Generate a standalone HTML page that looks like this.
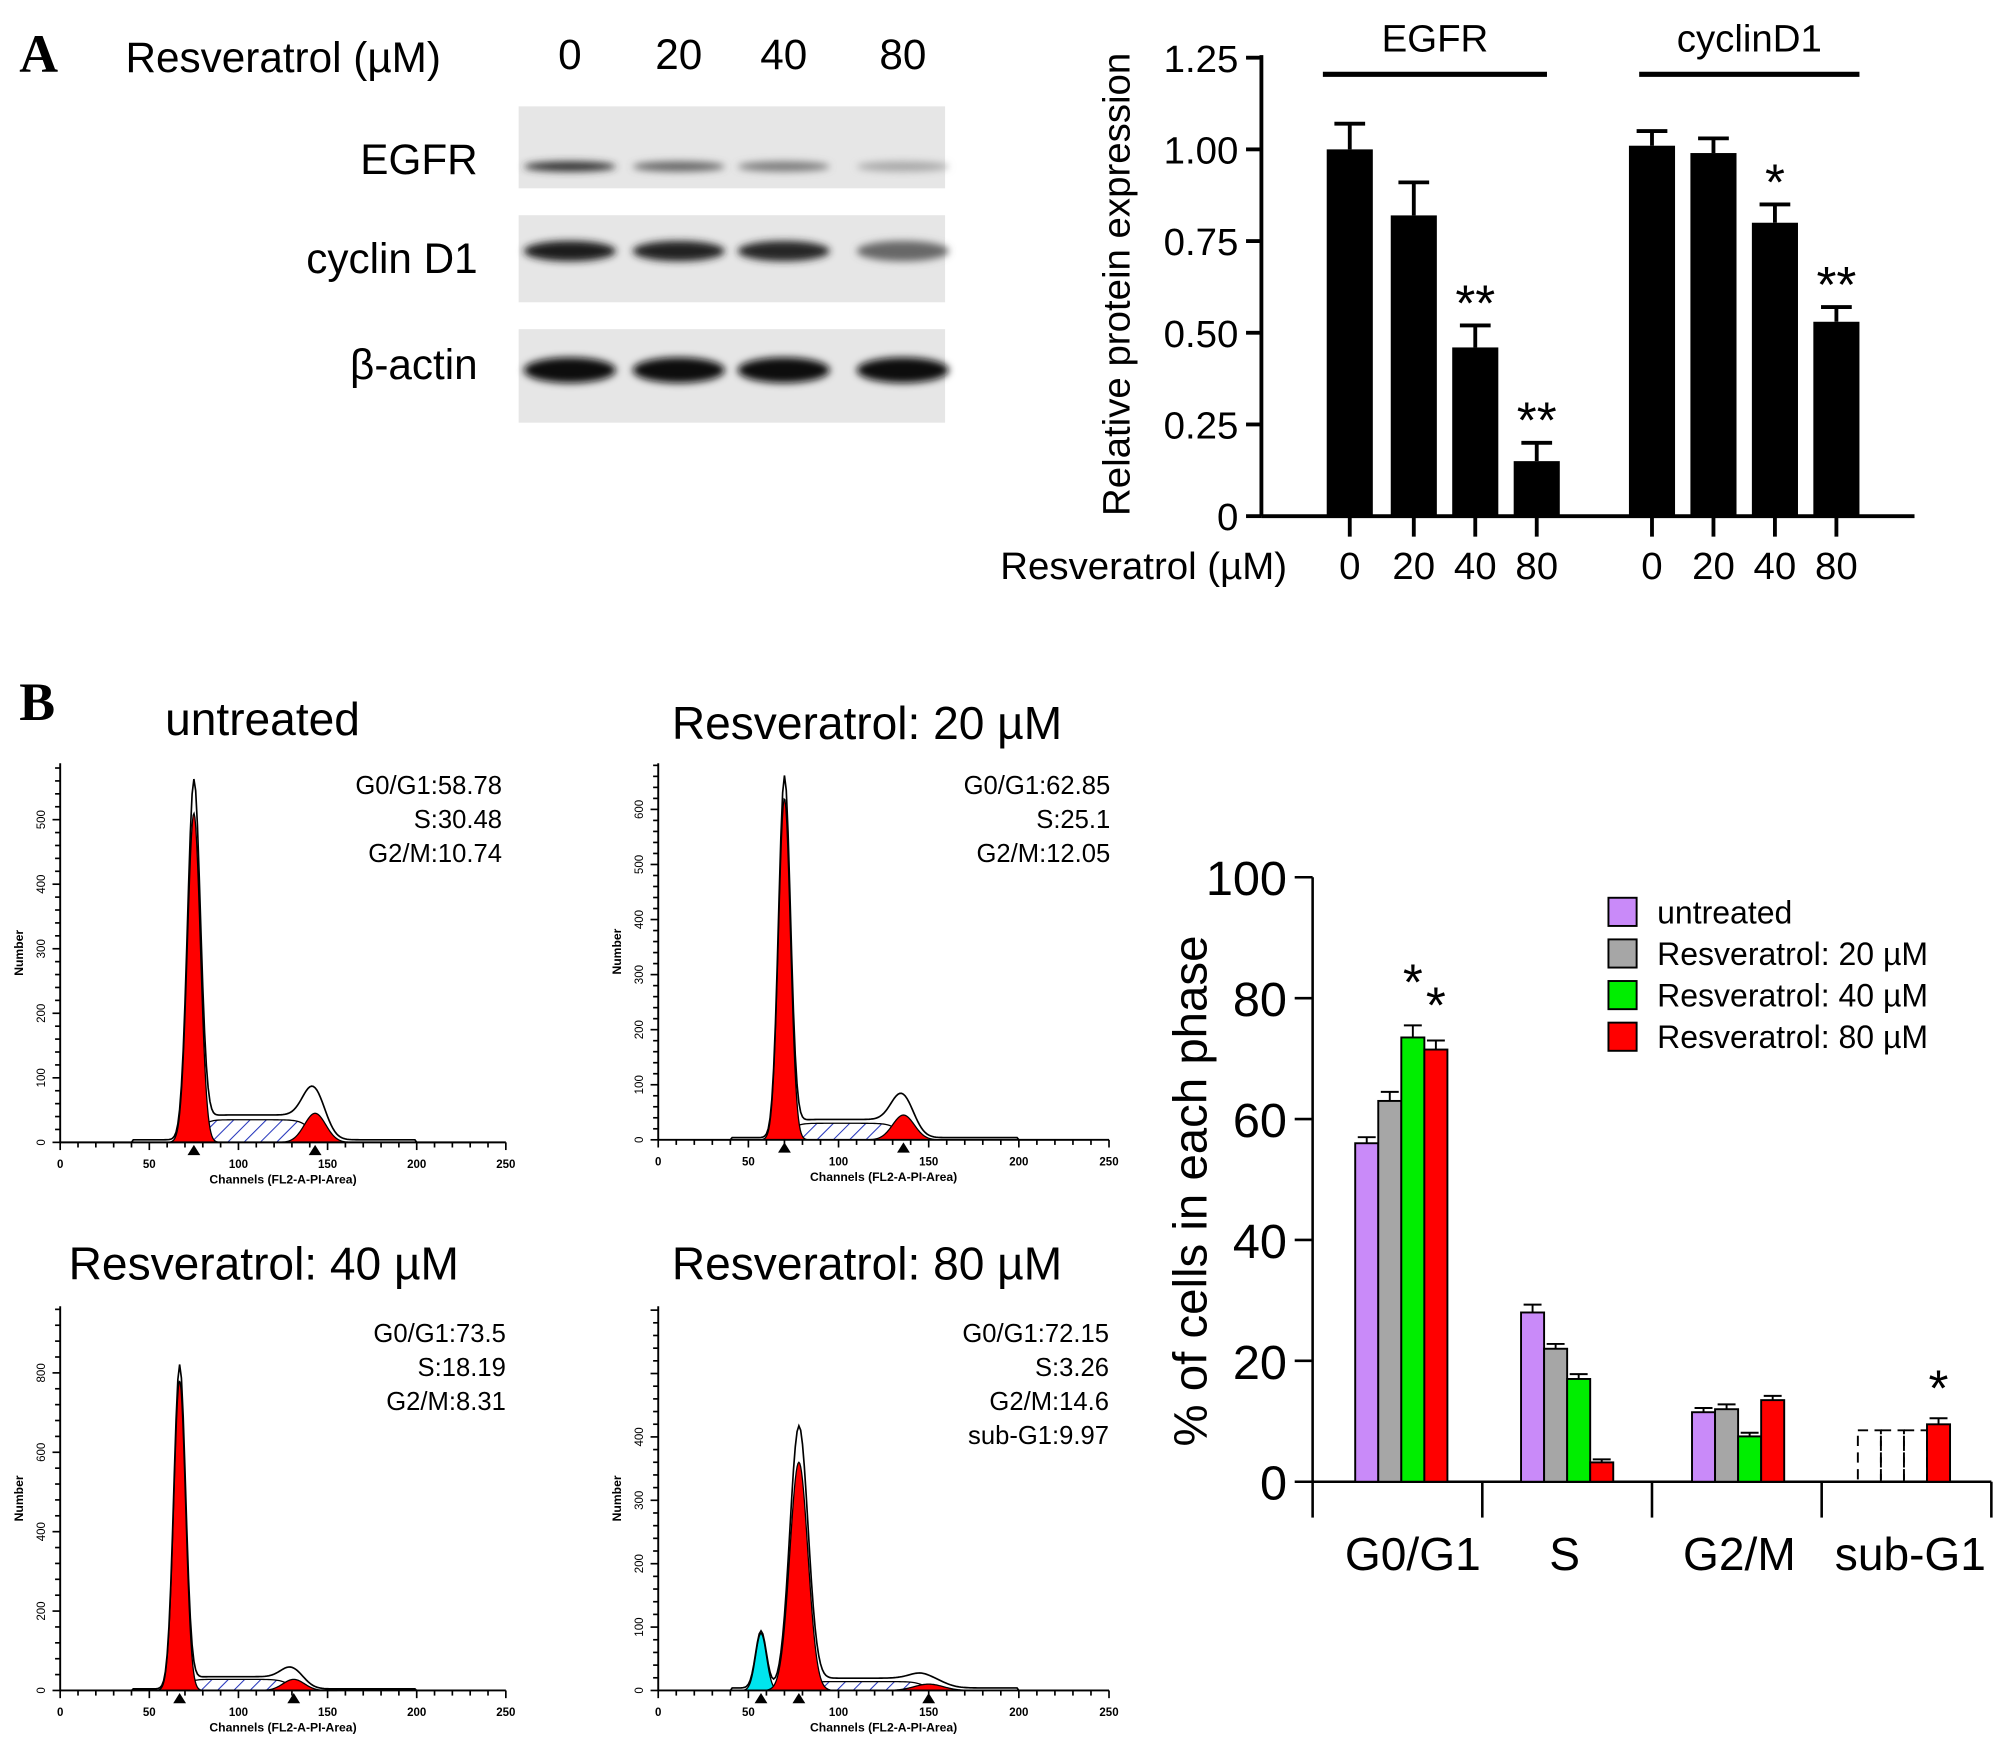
<!DOCTYPE html>
<html><head><meta charset="utf-8"><style>
html,body{margin:0;padding:0;background:#fff}
svg{display:block}
text{font-family:"Liberation Sans",Arial,sans-serif;fill:#000}
</style></head><body>
<svg id="fig" width="2008" height="1752" viewBox="0 0 1568 1368" xmlns="http://www.w3.org/2000/svg">
<defs>
<filter id="blur" x="-20%" y="-100%" width="140%" height="300%"><feGaussianBlur stdDeviation="3"/></filter>
<pattern id="hatch" patternUnits="userSpaceOnUse" width="9" height="9" patternTransform="rotate(45)">
<rect width="9" height="9" fill="#fff"/><line x1="0" y1="0" x2="0" y2="9" stroke="#2233bb" stroke-width="1.6"/></pattern>
</defs>
<g id="panelA">
<text x="15" y="56" font-weight="bold" font-size="42" style="font-family:'Liberation Serif',serif">A</text>
<text x="98" y="56" font-size="33">Resveratrol (µM)</text>
<text x="445" y="54" font-size="33" text-anchor="middle">0</text>
<text x="530" y="54" font-size="33" text-anchor="middle">20</text>
<text x="612" y="54" font-size="33" text-anchor="middle">40</text>
<text x="705" y="54" font-size="33" text-anchor="middle">80</text>
<text x="373" y="136" font-size="33" text-anchor="end">EGFR</text>
<text x="373" y="213" font-size="33" text-anchor="end">cyclin D1</text>
<text x="373" y="296" font-size="33" text-anchor="end">β-actin</text>
<g id="blots"></g>
<g id="chartA"></g>
</g>
<g id="panelB">
<text x="15" y="562" font-weight="bold" font-size="42" style="font-family:'Liberation Serif',serif">B</text>
<g id="hists"></g>
<g id="chartB"></g>
</g>
</svg>
<script>
const NS="http://www.w3.org/2000/svg";
function mk(tag,attrs,parent,txt){const e=document.createElementNS(NS,tag);for(const k in attrs)e.setAttribute(k,attrs[k]);if(txt!==undefined)e.textContent=txt;parent.appendChild(e);return e;}

// ---------- Blots ----------
const blotLanes=[445,530,612,705];
const egfrIntensity=[0.85,0.6,0.5,0.3];
const cyclinIntensity=[0.95,0.92,0.9,0.6];
const actinIntensity=[1,1,1,1];
const blots=document.getElementById('blots');
const blotRows=[{y:83,h:64,vals:egfrIntensity,bandY:130,bh:4,name:'egfr-blot'},{y:168,h:68,vals:cyclinIntensity,bandY:196,bh:8,name:'cyclind1-blot'},{y:257,h:73,vals:actinIntensity,bandY:289,bh:10,name:'actin-blot'}];
blotRows.forEach(r=>{
  const g=mk('g',{},blots);
  
  
  mk('rect',{x:405,y:r.y,width:333,height:r.h,fill:'#e6e6e6'},g);
  r.vals.forEach((v,i)=>{
    const c=Math.round(235-220*v);
    const b=mk('ellipse',{cx:blotLanes[i],cy:r.bandY,rx:36,ry:r.bh,fill:`rgb(${c},${c},${c})`,filter:'url(#blur)'},g);
    
    
  });
});

// ---------- Chart A ----------
const aGroups=['EGFR','cyclinD1'];
const aDoses=['0','20','40','80'];
const egfrVals=[1.00,0.82,0.46,0.15];
const egfrErr=[0.07,0.09,0.06,0.05];
const cycVals=[1.01,0.99,0.80,0.53];
const cycErr=[0.04,0.04,0.05,0.04];
const aTicks=[0,0.25,0.5,0.75,1.0,1.25];
const aTickLabels=['0','0.25','0.50','0.75','1.00','1.25'];
const egfrStars=['','','**','**'];
const cycStars=['','','*','**'];
const cA=document.getElementById('chartA');
const ax0=985,ay0=403,ayTop=45;
const yA=v=>ay0-(v/1.25)*(ay0-ayTop);
const centersA=[[1054,1104,1152,1200],[1290,1338,1386,1434]];
mk('line',{x1:ax0,y1:ay0,x2:1495,y2:ay0,stroke:'#000','stroke-width':3},cA);
mk('line',{x1:ax0,y1:ayTop-2,x2:ax0,y2:ay0,stroke:'#000','stroke-width':3},cA);
aTicks.forEach((t,i)=>{
  mk('line',{x1:ax0-12,y1:yA(t),x2:ax0,y2:yA(t),stroke:'#000','stroke-width':3},cA);
  const l=mk('text',{x:ax0-18,y:yA(t)+11,'font-size':30,'text-anchor':'end'},cA,aTickLabels[i]);
  
  
});
const yt=mk('text',{x:0,y:0,'font-size':30,'text-anchor':'middle',transform:'translate(882,222) rotate(-90)'},cA,'Relative protein expression');


const xt=mk('text',{x:1005,y:452,'font-size':30,'text-anchor':'end'},cA,'Resveratrol (µM)');


[[egfrVals,egfrErr,egfrStars],[cycVals,cycErr,cycStars]].forEach((s,gi)=>{
  s[0].forEach((v,i)=>{
    const cx=centersA[gi][i];
    const b=mk('rect',{x:cx-18,y:yA(v),width:36,height:ay0-yA(v),fill:'#000'},cA);
    
    
    const ye=yA(v+s[1][i]);
    mk('line',{x1:cx,y1:ye,x2:cx,y2:yA(v),stroke:'#000','stroke-width':3},cA);
    mk('line',{x1:cx-12,y1:ye,x2:cx+12,y2:ye,stroke:'#000','stroke-width':3},cA);
    mk('line',{x1:cx,y1:ay0,x2:cx,y2:ay0+16,stroke:'#000','stroke-width':3},cA);
    const tl=mk('text',{x:cx,y:452,'font-size':30,'text-anchor':'middle'},cA,aDoses[i]);
    
    
    if(s[2][i]){const st=mk('text',{x:cx,y:ye-4,'font-size':40,'text-anchor':'middle'},cA,s[2][i]);
      
      }
  });
});
[[1033,1208,'EGFR'],[1280,1452,'cyclinD1']].forEach(g=>{
  mk('line',{x1:g[0],y1:58,x2:g[1],y2:58,stroke:'#000','stroke-width':4},cA);
  const t=mk('text',{x:(g[0]+g[1])/2,y:40,'font-size':30,'text-anchor':'middle'},cA,g[2]);
  
  
});

// ---------- Histograms ----------
const histTitles=['untreated','Resveratrol: 20 µM','Resveratrol: 40 µM','Resveratrol: 80 µM'];
const histStats=[['G0/G1:58.78','S:30.48','G2/M:10.74'],['G0/G1:62.85','S:25.1','G2/M:12.05'],['G0/G1:73.5','S:18.19','G2/M:8.31'],['G0/G1:72.15','S:3.26','G2/M:14.6','sub-G1:9.97']];
const g1Pos=[75,70,67,78], g1Height=[510,620,780,360], g1Width=[3.6,3.3,3.3,5];
const g2Pos=[143,136,131,150], g2Height=[45,45,28,10], g2Width=[6,6,6,8];
const sLevel=[35,30,28,14];
const subPos=[0,0,0,57], subHeight=[0,0,0,90];
const envExtra=[40,30,30,50];
const yMaxTick=[500,600,800,400], yTickStep=[100,100,200,100];
const hx=[47,514,47,514], hbase=[892,890,1320,1320], htop=[596,596,1020,1020], hw=[348,352,348,352];
const countPx=[0.504,0.43,0.31,0.495];
const titlePos=[[205,574],[677,577],[206,999],[677,999]];
const statX=[392,867,395,866], statY=[620,1048];
const H=document.getElementById('hists');
const gauss=(x,m,s)=>Math.exp(-0.5*((x-m)/s)**2);
histTitles.forEach((title,p)=>{
  const g=mk('g',{},H);
  
  
  const X=c=>hx[p]+c/250*hw[p], Y=n=>hbase[p]-n*countPx[p];
  const t=mk('text',{x:titlePos[p][0],y:titlePos[p][1],'font-size':36,'text-anchor':'middle'},g,title);
  
  
  histStats[p].forEach((s,i)=>{const st=mk('text',{x:statX[p],y:(p<2?statY[0]:statY[1])+i*26.5,'font-size':20,'text-anchor':'end'},g,s);
    
    });
  const sSig=c=>1/(1+Math.exp(-(c-g1Pos[p]-3)/2.5))*1/(1+Math.exp((c-g2Pos[p]+2)/3));
  let sp=`M${X(g1Pos[p])},${Y(0)}`;
  for(let c=g1Pos[p];c<=g2Pos[p]+8;c+=1)sp+=` L${X(c)},${Y(sLevel[p]*sSig(c))}`;
  sp+=` L${X(g2Pos[p]+8)},${Y(0)}Z`;
  mk('path',{d:sp,fill:'url(#hatch)',stroke:'#000','stroke-width':1},g);
  const peak=(m,h,s,col,nm)=>{let d=`M${X(m-4*s)},${Y(0)}`;for(let c=m-4*s;c<=m+4*s;c+=0.5)d+=` L${X(c)},${Y(h*gauss(c,m,s))}`;d+=` L${X(m+4*s)},${Y(0)}Z`;
    const e=mk('path',{d:d,fill:col,stroke:'#000','stroke-width':1},g);};
  if(subHeight[p])peak(subPos[p],subHeight[p],3,'#00e5ee','sub-g1-peak');
  peak(g1Pos[p],g1Height[p],g1Width[p],'#f00','g1-peak');
  peak(g2Pos[p],g2Height[p],g2Width[p],'#f00','g2-peak');
  let ed='';
  for(let c=20;c<=240;c+=1){const n=g1Height[p]*gauss(c,g1Pos[p],g1Width[p])+envExtra[p]*gauss(c,g1Pos[p],g1Width[p])+g2Height[p]*1.5*gauss(c,g2Pos[p],g2Width[p])+sLevel[p]*1.1*sSig(c)+subHeight[p]*gauss(c,subPos[p]||-100,3)+(c>40&&c<200?4:0);
    ed+=(ed?' L':'M')+X(c)+','+Y(n);}
  mk('path',{d:ed,fill:'none',stroke:'#000','stroke-width':1.3},g);
  mk('line',{x1:X(0),y1:hbase[p],x2:X(250),y2:hbase[p],stroke:'#000','stroke-width':1.5},g);
  mk('line',{x1:X(0),y1:htop[p],x2:X(0),y2:hbase[p],stroke:'#000','stroke-width':1.5},g);
  for(let c=0;c<=250;c+=10)mk('line',{x1:X(c),y1:hbase[p],x2:X(c),y2:hbase[p]+(c%50?4:6),stroke:'#000','stroke-width':1.3},g);
  for(let c=0;c<=250;c+=50){const l=mk('text',{x:X(c),y:hbase[p]+20,'font-size':9,'font-weight':'bold','text-anchor':'middle'},g,c);
    }
  for(let n=0;Y(n)>=htop[p];n+=yTickStep[p]/5)mk('line',{x1:X(0)-(n%yTickStep[p]?4:6),y1:Y(n),x2:X(0),y2:Y(n),stroke:'#000','stroke-width':1.3},g);
  for(let n=0;n<=yMaxTick[p];n+=yTickStep[p]){const l=mk('text',{x:0,y:0,'font-size':9,'text-anchor':'middle',transform:`translate(${X(0)-12},${Y(n)}) rotate(-90)`},g,n);
    }
  const xl=mk('text',{x:X(125),y:hbase[p]+32,'font-size':9.5,'font-weight':'bold','text-anchor':'middle'},g,'Channels (FL2-A-PI-Area)');
  
  const yl=mk('text',{x:0,y:0,'font-size':9.5,'font-weight':'bold','text-anchor':'middle',transform:`translate(${X(0)-29},${(htop[p]+hbase[p])/2}) rotate(-90)`},g,'Number');
  
  [g1Pos[p],g2Pos[p]].forEach(c=>mk('path',{d:`M${X(c)-5},${hbase[p]+10} L${X(c)+5},${hbase[p]+10} L${X(c)},${hbase[p]+2}Z`,fill:'#000'},g));
  if(subHeight[p])mk('path',{d:`M${X(subPos[p])-5},${hbase[p]+10} L${X(subPos[p])+5},${hbase[p]+10} L${X(subPos[p])},${hbase[p]+2}Z`,fill:'#000'},g);
});

// ---------- Chart B ----------
const phases=['G0/G1','S','G2/M','sub-G1'];
const seriesNames=['untreated','Resveratrol: 20 µM','Resveratrol: 40 µM','Resveratrol: 80 µM'];
const seriesColors=['#c98af9','#a6a6a6','#00ee00','#ff0000'];
const untreatedVals=[56,28,11.5,8.5];
const r20Vals=[63,22,12,8.5];
const r40Vals=[73.5,17,7.5,8.5];
const r80Vals=[71.5,3.2,13.5,9.5];
const untreatedErr=[1,1.3,0.7,0];
const r20Err=[1.5,0.8,0.8,0];
const r40Err=[2,0.8,0.6,0];
const r80Err=[1.5,0.5,0.7,1];
const bStars=[['','','*','*'],['','','',''],['','','',''],['','','','*']];
const bTicks=[0,20,40,60,80,100];
const cB=document.getElementById('chartB');
const bx0=1025,bxEnd=1555,by0=1157,byTop=685;
const yB=v=>by0-v/100*(by0-byTop);
const groupW=(bxEnd-bx0)/phases.length;
const bw=18;
const barShift=[3,0,1,-2];
const labelShift=[12,-2,2,3];
mk('line',{x1:bx0,y1:by0,x2:bxEnd,y2:by0,stroke:'#000','stroke-width':2},cB);
mk('line',{x1:bx0,y1:byTop,x2:bx0,y2:by0,stroke:'#000','stroke-width':2},cB);
bTicks.forEach(t=>{
  mk('line',{x1:bx0-14,y1:yB(t),x2:bx0,y2:yB(t),stroke:'#000','stroke-width':2},cB);
  const l=mk('text',{x:bx0-20,y:yB(t)+14,'font-size':38,'text-anchor':'end'},cB,t);
  
});
for(let i=0;i<=phases.length;i++)mk('line',{x1:bx0+i*groupW,y1:by0,x2:bx0+i*groupW,y2:by0+28,stroke:'#000','stroke-width':2},cB);
const yb=mk('text',{x:0,y:0,'font-size':37,'text-anchor':'middle',transform:'translate(942,930) rotate(-90)'},cB,'% of cells in each phase');

const allVals=[untreatedVals,r20Vals,r40Vals,r80Vals], allErr=[untreatedErr,r20Err,r40Err,r80Err];
const starLift=[[0,0,20,14],[0,0,0,0],[0,0,0,0],[0,0,0,10]];
phases.forEach((ph,pi)=>{
  const gmid=bx0+pi*groupW+groupW/2;
  const gc=gmid+barShift[pi];
  const l=mk('text',{x:gmid+labelShift[pi],y:1226,'font-size':36,'text-anchor':'middle'},cB,ph);
  
  allVals.forEach((vals,si)=>{
    const x=gc-2*bw+si*bw, v=vals[pi];
    const dashed=(pi===3&&si<3);
    const b=mk('rect',{x:x,y:yB(v),width:bw,height:by0-yB(v),fill:dashed?'none':seriesColors[si],stroke:'#000','stroke-width':1.5,'stroke-dasharray':dashed?'8,5':'none'},cB);
    
    
    const e=allErr[si][pi];
    const ye=yB(v+e);
    if(e>0){
      mk('line',{x1:x+bw/2,y1:ye,x2:x+bw/2,y2:yB(v),stroke:'#000','stroke-width':1.5},cB);
      mk('line',{x1:x+bw/2-7,y1:ye,x2:x+bw/2+7,y2:ye,stroke:'#000','stroke-width':1.5},cB);}
    if(bStars[pi][si]){const st=mk('text',{x:x+bw/2,y:ye-starLift[pi][si],'font-size':40,'text-anchor':'middle'},cB,'*');
      }
  });
});
seriesNames.forEach((n,i)=>{
  const g=mk('g',{},cB);
  
  
  const y=712+i*32.5;
  mk('rect',{x:1256,y:y-11,width:22,height:22,fill:seriesColors[i],stroke:'#000','stroke-width':1.5},g);
  mk('text',{x:1294,y:y+9,'font-size':25},g,n);
});
</script>
</body></html>
